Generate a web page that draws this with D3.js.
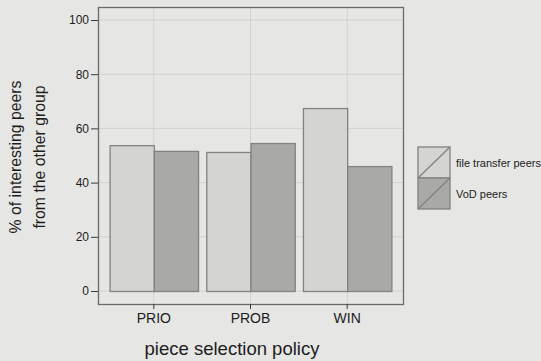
<!DOCTYPE html>
<html><head><meta charset="utf-8">
<script src="https://cdn.jsdelivr.net/npm/d3@7"></script>
<style>html,body{margin:0;padding:0;background:#e6e6e4;}svg{display:block;}</style>
</head><body>
<script>
const categories = ["PRIO", "PROB", "WIN"];
const seriesNames = ["file transfer peers", "VoD peers"];
const fileTransfer = [53.8, 51.3, 67.5];
const vod = [51.7, 54.6, 46.1];
const yTicks = [0, 20, 40, 60, 80, 100];

const W = 541, H = 361;
const FONT = "Arial, 'Liberation Sans', sans-serif";
const panel = {l: 98, r: 403, t: 7, b: 304};
const svg = d3.select("body").append("svg").attr("width", W).attr("height", H)
  .style("font-family", FONT);
svg.append("rect").attr("width", W).attr("height", H).attr("fill", "#e6e6e4");

const y = d3.scaleLinear().domain([0, 100]).range([291, 20]);
const x = d3.scaleBand().domain(categories).range([panel.l, panel.r]).paddingInner(0.085).paddingOuter(0.12);
const xs = d3.scaleBand().domain(seriesNames).range([0, x.bandwidth()]);
const fills = ["#d4d4d2", "#a9a9a7"];
const stroke = "#828280";
const txt = "#1c1c1c";

// grid
const g = svg.append("g");
g.selectAll(".hg").data(yTicks).join("line")
  .attr("x1", panel.l).attr("x2", panel.r).attr("y1", d => y(d)).attr("y2", d => y(d))
  .attr("stroke", "#d0d0ce").attr("stroke-width", 1);
g.selectAll(".vg").data(categories).join("line")
  .attr("x1", d => x(d) + x.bandwidth() / 2).attr("x2", d => x(d) + x.bandwidth() / 2)
  .attr("y1", panel.t).attr("y2", panel.b)
  .attr("stroke", "#d0d0ce").attr("stroke-width", 1);

// bars
const data = categories.map((c, i) => ({c, vals: [fileTransfer[i], vod[i]]}));
const grp = svg.selectAll(".grp").data(data).join("g").attr("transform", d => `translate(${x(d.c)},0)`);
grp.selectAll("rect").data(d => d.vals.map((v, j) => ({v, j}))).join("rect")
  .attr("x", d => xs(seriesNames[d.j]) + 0.5)
  .attr("width", xs.bandwidth())
  .attr("y", d => y(d.v) + 0.5)
  .attr("height", d => y(0) - y(d.v))
  .attr("fill", d => fills[d.j]).attr("stroke", stroke).attr("stroke-width", 1.3);

// panel border
svg.append("rect").attr("x", panel.l + 0.5).attr("y", panel.t + 0.5)
  .attr("width", panel.r - panel.l).attr("height", panel.b - panel.t)
  .attr("fill", "none").attr("stroke", "#6a6a68").attr("stroke-width", 1.3);

// y axis
const ya = svg.append("g").attr("transform", `translate(${panel.l},0)`)
  .call(d3.axisLeft(y).tickValues(yTicks).tickSize(7).tickPadding(2));
ya.select(".domain").remove();
ya.selectAll("line").attr("stroke", "#3a3a3a");
ya.selectAll("text").attr("font-size", 12).attr("fill", txt).attr("font-family", FONT);

// x axis
const xa = svg.append("g").attr("transform", `translate(0,${panel.b})`)
  .call(d3.axisBottom(x).tickSize(5).tickPadding(4));
xa.select(".domain").remove();
xa.selectAll("line").attr("stroke", "#3a3a3a");
xa.selectAll("text").attr("font-size", 14).attr("fill", txt).attr("font-family", FONT);

// axis titles
svg.append("text").attr("x", 232).attr("y", 355)
  .attr("text-anchor", "middle").attr("font-size", 18.5).attr("fill", txt).text("piece selection policy");
const yt = svg.append("text").attr("transform", "translate(0,157) rotate(-90)")
  .attr("text-anchor", "middle").attr("font-size", 15.8).attr("fill", txt);
yt.append("tspan").attr("x", 0).attr("y", 21).text("% of interesting peers");
yt.append("tspan").attr("x", 0).attr("y", 45).text("from the other group");

// legend
const lg = svg.append("g").attr("transform", "translate(418,147)");
const keyW = 32, keyH = 31;
seriesNames.forEach((s, i) => {
  const k = lg.append("g").attr("transform", `translate(0,${i * keyH})`);
  k.append("rect").attr("width", keyW).attr("height", keyH).attr("fill", fills[i])
    .attr("stroke", stroke).attr("stroke-width", 1.3);
  k.append("line").attr("x1", 0).attr("y1", keyH).attr("x2", keyW).attr("y2", 0)
    .attr("stroke", stroke).attr("stroke-width", 1.3);
  k.append("text").attr("x", keyW + 6).attr("y", keyH / 2 + 4)
    .attr("font-size", 11).attr("fill", txt).text(s);
});
</script>
</body></html>
